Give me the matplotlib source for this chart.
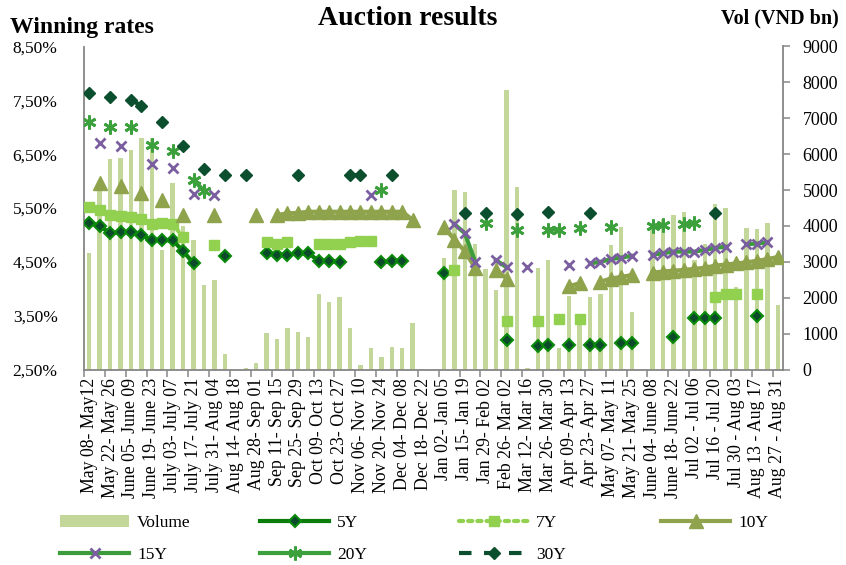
import numpy as np
import matplotlib
matplotlib.use("Agg")
import matplotlib.pyplot as plt
from matplotlib.patches import Patch
from matplotlib.ticker import FuncFormatter

plt.rcParams['font.family'] = ['Liberation Serif', 'DejaVu Serif']

n = np.nan

# auction weeks, every other one gets a tick label
weeks = [
    'May 08- May12', 'May 15- May 19', 'May 22- May 26', 'May 29- June 02',
    'June 05- June 09', 'June 12- June 16', 'June 19- June 23', 'June 26- June 30',
    'July 03- July 07', 'July 10- July 14', 'July 17- July 21', 'July 24- July 28',
    'July 31- Aug 04', 'Aug 07- Aug 11', 'Aug 14- Aug 18', 'Aug 21- Aug 25',
    'Aug 28- Sep 01', 'Sep 04- Sep 08', 'Sep 11- Sep 15', 'Sep 18- Sep 22',
    'Sep 25- Sep 29', 'Oct 02- Oct 06', 'Oct 09- Oct 13', 'Oct 16- Oct 20',
    'Oct 23- Oct 27', 'Oct 30- Nov 03', 'Nov 06- Nov 10', 'Nov 13- Nov 17',
    'Nov 20- Nov 24', 'Nov 27- Dec 01', 'Dec 04- Dec 08', 'Dec 11- Dec 15',
    'Dec 18- Dec 22', 'Dec 25- Dec 29', 'Jan 02- Jan 05', 'Jan 08- Jan 12',
    'Jan 15- Jan 19', 'Jan 22- Jan 26', 'Jan 29- Feb 02', 'Feb 05- Feb 09',
    'Feb 26- Mar 02', 'Mar 05- Mar 09', 'Mar 12- Mar 16', 'Mar 19- Mar 23',
    'Mar 26- Mar 30', 'Apr 02- Apr 06', 'Apr 09- Apr 13', 'Apr 16- Apr 20',
    'Apr 23- Apr 27', 'May 02- May 04', 'May 07- May 11', 'May 14- May 18',
    'May 21- May 25', 'May 28- June 01', 'June 04- June 08', 'June 11- June 15',
    'June 18- June 22', 'June 25- June 29', 'Jul 02 - Jul 06', 'Jul 09 - Jul 13',
    'Jul 16 - Jul 20', 'Jul 23 - Jul 27', 'Jul 30 - Aug 03', 'Aug 06 - Aug 10',
    'Aug 13 - Aug 17', 'Aug 20 - Aug 24', 'Aug 27 - Aug 31',
]

# issued volume, VND bn
vol = [
    3260, 5000, 5860, 5890, 6120, 6450, 6450, 3330, 5200, 4000,
    3600, 2355, 2490, 420, n, 40, 190, 1010, 850, 1165,
    1045, 900, 2100, 1890, 2010, 1165, 125, 600, 340, 630,
    590, 1305, n, n, 3100, 5000, 4945, 3500, 2800, 2215,
    7790, 5075, 30, 2835, 3040, 590, 2050, 1290, 2030, 2100,
    3470, 3980, 1610, n, 3980, 4185, 4300, 4390, 3050, 3500,
    4610, 4510, 2310, 3950, 3905, 4090, 1800,
]

# winning rates, %
y5 = [
    5.23, 5.17, 5.03, 5.05, 5.05, 5.00, 4.90, 4.90, 4.90, 4.70,
    4.47, n, n, 4.60, n, n, n, 4.67, 4.63, 4.63,
    4.66, 4.66, 4.52, 4.52, 4.49, n, n, n, 4.49, 4.52,
    4.52, n, n, n, 4.30, n, n, n, n, n,
    3.05, n, n, 2.94, 2.955, n, 2.955, n, 2.955, 2.955,
    n, 2.99, 2.99, n, n, n, 3.10, n, 3.45, 3.45,
    3.45, n, n, n, 3.49, n, n,
]
y7 = [
    5.51, 5.46, 5.37, 5.35, 5.34, 5.29, 5.20, 5.215, 5.20, 4.96,
    n, n, 4.81, n, n, n, n, 4.86, 4.83, 4.86,
    n, n, 4.83, 4.83, 4.83, 4.86, 4.89, 4.89, n, n,
    n, n, n, n, n, 4.35, n, n, n, n,
    3.41, n, n, 3.41, n, 3.43, n, 3.43, n, n,
    n, n, n, n, n, n, n, n, n, n,
    3.85, 3.90, 3.90, n, 3.90, n, n,
]
y10 = [
    n, 5.96, n, 5.90, n, 5.78, n, 5.65, n, 5.37,
    n, n, 5.37, n, n, n, 5.37, n, 5.37, 5.40,
    5.41, 5.43, 5.43, 5.43, 5.43, 5.43, 5.43, 5.43, 5.43, 5.43,
    5.43, 5.28, n, n, 5.15, 4.91, 4.70, 4.38, n, 4.35,
    4.19, n, n, n, n, n, 4.05, 4.10, n, 4.13,
    4.19, 4.22, 4.255, n, 4.30, 4.32, 4.335, 4.35, 4.37, 4.39,
    4.43, 4.45, 4.47, 4.49, 4.52, 4.55, 4.59,
]
y15 = [
    n, 6.70, n, 6.65, n, n, 6.31, n, 6.25, n,
    5.76, n, 5.75, n, n, n, n, n, n, n,
    n, n, n, n, n, n, n, 5.75, n, n,
    n, n, n, n, n, 5.20, 5.03, 4.50, n, 4.53,
    4.40, n, 4.40, n, n, n, 4.45, n, 4.47, 4.50,
    4.55, 4.58, 4.61, n, 4.63, 4.66, 4.69, 4.69, 4.69, 4.72,
    4.76, 4.78, n, 4.825, 4.84, 4.86, n,
]
y20 = [
    7.10, n, 7.01, n, 7.01, n, 6.67, n, 6.56, n,
    6.02, 5.82, n, n, n, n, n, n, n, n,
    n, n, n, n, n, n, n, n, 5.83, n,
    n, n, n, n, n, n, n, n, 5.22, n,
    n, 5.09, n, n, 5.10, 5.10, n, 5.12, n, n,
    5.14, n, n, n, 5.17, 5.18, n, 5.20, 5.22, n,
    n, n, n, n, n, n, n,
]
y30 = [
    7.63, n, 7.56, n, 7.51, 7.40, n, 7.10, n, 6.66,
    n, 6.22, n, 6.11, n, 6.11, n, n, n, n,
    6.11, n, n, n, n, 6.11, 6.11, n, n, 6.11,
    n, n, n, n, n, n, 5.40, n, 5.40, n,
    n, 5.39, n, n, 5.42, n, n, n, 5.41, n,
    n, n, n, n, n, n, n, n, n, n,
    5.41, n, n, n, n, n, n,
]

x = np.arange(len(weeks))
grey = '#868686'

fig = plt.figure(figsize=(8.46, 5.65), dpi=100)
ax_vol = fig.add_axes([84 / 846, 1 - 369.5 / 565, 699 / 846, 323 / 565])
ax = ax_vol.twinx()

# volume bars sit behind the rate series, scaled on the right
ax_vol.bar(x, vol, width=0.42, color='#c4d79b', zorder=1)
ax_vol.set_ylim(0, 9000)
ax_vol.set_yticks(range(0, 9001, 1000))
ax_vol.set_xlim(-0.5, len(weeks) - 0.5)
ax_vol.yaxis.tick_right()
ax_vol.tick_params(axis='y', which='major', direction='out', length=5, width=1.1,
                   color=grey, pad=9, labelsize=13)

ax_vol.set_xticks(x[::2])
ax_vol.set_xticklabels(weeks[::2], rotation=90, fontsize=12.8, va='top', ha='center')
ax_vol.set_xticks(np.arange(-0.5, len(weeks), 2), minor=True)
ax_vol.tick_params(axis='x', which='major', length=0, pad=6)
ax_vol.tick_params(axis='x', which='minor', direction='out', length=5, width=1.1, color=grey)

for side in ['top', 'left']:
    ax_vol.spines[side].set_visible(False)
for side in ['right', 'bottom']:
    ax_vol.spines[side].set_color(grey)
    ax_vol.spines[side].set_linewidth(1.3)

# rates on the left scale
h5, = ax.plot(x, y5, color='#0a7d0a', lw=3, marker='D', ms=6.5, mfc='#0c4a2c',
              mec='#0a8a0a', mew=1.5, zorder=3)
h7, = ax.plot(x, y7, color='#92d050', lw=3, ls=(0, (1, 1.2)), dash_capstyle='round',
              marker='s', ms=7.5, mfc='#92d050', mec='#92d050', zorder=3)
h10, = ax.plot(x, y10, color='#8ea34c', lw=3, marker='^', ms=10, mfc='#8ea34c',
               mec='#8ea34c', zorder=3)
h15, = ax.plot(x, y15, color='#3c9c3c', lw=3, marker='x', ms=6.5, mew=2,
               mec='#7b5ea0', zorder=3)
h20, = ax.plot(x, y20, color='#3ca03c', lw=3, marker=(6, 2, 0), ms=10, mew=2,
               mec='#3ca03c', zorder=3)
h30, = ax.plot(x, y30, color='#0c4f2e', lw=3, ls=(0, (3, 3)), marker='D', ms=6,
               mfc='#0c4f2e', mec='#0c4f2e', zorder=3)

ax.set_ylim(2.5, 8.5)
ax.set_yticks(np.arange(2.5, 8.51, 1.0))
ax.yaxis.set_major_formatter(FuncFormatter(lambda v, _: f'{v:.2f}'.replace('.', ',') + '%'))
ax.yaxis.tick_left()
ax.tick_params(axis='y', length=0, pad=19, labelsize=12.5)
for side in ['top', 'right', 'bottom']:
    ax.spines[side].set_visible(False)
ax.spines['left'].set_color(grey)
ax.spines['left'].set_linewidth(1.3)

fig.text(0.482, 0.968, 'Auction results', ha='center', va='center',
         fontsize=20, fontweight='bold')
fig.text(0.012, 0.952, 'Winning rates', ha='left', va='center',
         fontsize=17, fontweight='bold')
fig.text(0.991, 0.968, 'Vol (VND bn)', ha='right', va='center',
         fontsize=14.5, fontweight='bold')

# legend laid out as four separate columns
h_vol = Patch(facecolor='#c4d79b', edgecolor='none')
columns = [
    ([h_vol, h15], ['Volume', '15Y'], 60),
    ([h5, h20], ['5Y', '20Y'], 260),
    ([h7, h30], ['7Y', '30Y'], 459),
    ([h10], ['10Y'], 661),
]
for handles, labels, px in columns:
    fig.legend(handles, labels, loc='upper left', bbox_to_anchor=(px / 846, 1 - 515 / 565),
               frameon=False, borderpad=0, borderaxespad=0, handlelength=4.0,
               handletextpad=0.45, labelspacing=0.92, fontsize=12.5, numpoints=1)

fig.savefig('out.png', dpi=100)
